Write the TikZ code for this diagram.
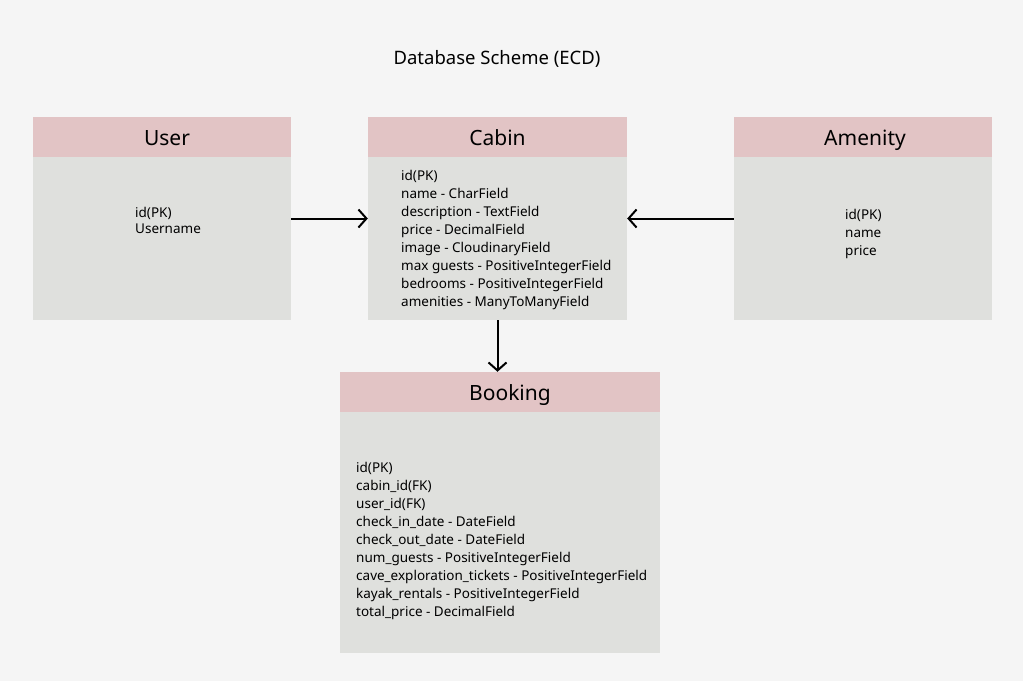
\documentclass[tikz,border=0pt]{standalone}
\usepackage{fontspec}
\setmainfont{Noto Sans}
\usetikzlibrary{arrows.meta,positioning}
\definecolor{pagebg}{HTML}{F5F5F5}
\definecolor{headpink}{HTML}{E2C4C5}
\definecolor{bodygrey}{HTML}{DFE0DD}
\tikzset{
  entity/.style={
    rectangle,
    fill = bodygrey,
    inner sep = 0pt,
  },
  entity head/.style={
    rectangle,
    fill = headpink,
    inner sep = 0pt,
    minimum height = 40pt,
    text height = 18pt,
    text depth = 2pt,
    font = \fontsize{21}{24}\selectfont,
  },
  field list/.style={
    align = left,
    inner sep = 0pt,
    anchor = west,
    font = \fontsize{13.5}{18}\selectfont,
  },
  relation/.style={
    ->,
    line width = 2pt,
  },
}

\begin{document}
\begin{tikzpicture}[
            x = 1pt, y = -1pt, % pixel grid, y downwards
            >= {Straight Barb[length=8pt,width=18pt]}, % arrow head style
        ]

        \useasboundingbox[fill = pagebg] (0,0) rectangle (1023,681);

        \node (title) at (497,59) {\fontsize{18.5}{22}\selectfont Database Scheme (ECD)};

        % entities
        \node[entity, minimum width=258pt, minimum height=203pt] (user) at (162,218.5) {};
        \node[entity, minimum width=259pt, minimum height=203pt] (cabin) at (497.5,218.5) {};
        \node[entity, minimum width=258pt, minimum height=203pt] (amenity) at (863,218.5) {};
        \node[entity, minimum width=320pt, minimum height=281pt] (booking) at (500,512.5) {};

        \node[entity head, minimum width=258pt, anchor=north] (user head) at (user.north) {\hspace*{10pt}User};
        \node[entity head, minimum width=259pt, anchor=north] (cabin head) at (cabin.north) {Cabin};
        \node[entity head, minimum width=258pt, anchor=north] (amenity head) at (amenity.north) {\hspace*{4pt}Amenity};
        \node[entity head, minimum width=320pt, anchor=north] (booking head) at (booking.north) {\hspace*{20pt}Booking};

        % fields
        \node[field list] (user fields) at (135,220) {id(PK)\\[-2pt]Username};
        \node[field list] (cabin fields) at (401,239.5) {id(PK)\\name - CharField\\description - TextField\\price - DecimalField\\image - CloudinaryField\\max guests - PositiveIntegerField\\bedrooms - PositiveIntegerField\\amenities - ManyToManyField};
        \node[field list] (amenity fields) at (845,234) {id(PK)\\name\\price};
        \node[field list] (booking fields) at (356,540.5) {id(PK)\\cabin\_id(FK)\\user\_id(FK)\\check\_in\_date - DateField\\check\_out\_date - DateField\\num\_guests - PositiveIntegerField\\cave\_exploration\_tickets - PositiveIntegerField\\kayak\_rentals - PositiveIntegerField\\total\_price - DecimalField};

        % relations
        \draw[relation] (user) -- (cabin);
        \draw[relation] (amenity) -- (cabin);
        \draw[relation] (cabin) -- (cabin |- booking.north);

    \end{tikzpicture}
\end{document}
